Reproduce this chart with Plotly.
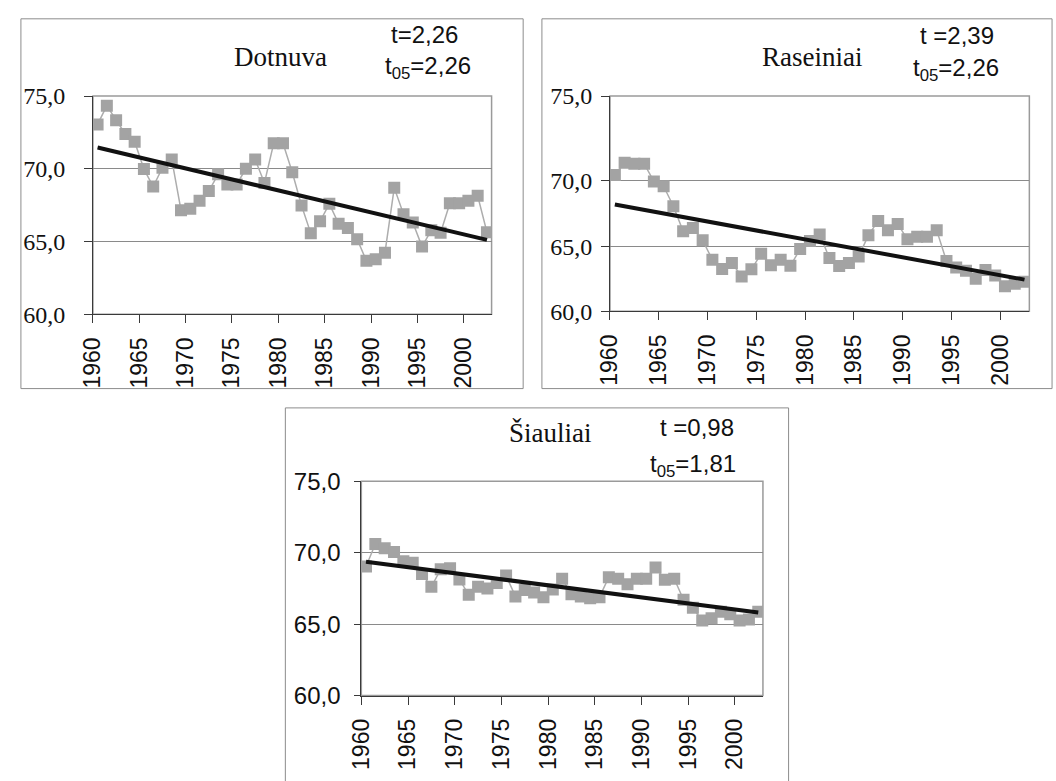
import plotly.graph_objects as go

# Years of observation (one point per year)
years = list(range(1960, 2003))

# Station series
dotnuva = [73.05, 74.34, 73.34, 72.39, 71.86, 69.98, 68.78, 70.07, 70.64, 67.15,
           67.26, 67.81, 68.47, 69.62, 68.92, 68.92, 70.00, 70.64, 69.03, 71.75,
           71.75, 69.76, 67.48, 65.56, 66.39, 67.59, 66.22, 65.93, 65.16, 63.67,
           63.78, 64.23, 68.69, 66.88, 66.31, 64.65, 65.78, 65.60, 67.63, 67.63,
           67.81, 68.14, 65.64]

raseiniai = [70.45, 71.39, 71.32, 71.32, 69.96, 69.59, 68.06, 66.13, 66.38, 65.44,
             63.96, 63.24, 63.71, 62.67, 63.22, 64.41, 63.54, 63.96, 63.49, 64.78,
             65.39, 65.89, 64.08, 63.47, 63.71, 64.21, 65.84, 66.93, 66.21, 66.70,
             65.52, 65.71, 65.71, 66.21, 63.86, 63.37, 63.12, 62.50, 63.17, 62.75,
             61.93, 62.11, 62.26]

siauliai = [69.03, 70.61, 70.32, 70.05, 69.41, 69.30, 68.51, 67.61, 68.85, 68.92,
            68.13, 67.05, 67.61, 67.50, 67.88, 68.40, 66.94, 67.39, 67.21, 66.89,
            67.43, 68.18, 67.09, 66.94, 66.82, 66.89, 68.29, 68.18, 67.79, 68.18,
            68.18, 68.97, 68.11, 68.18, 66.71, 66.15, 65.25, 65.41, 65.86, 65.70,
            65.25, 65.32, 65.86]

# Linear trend lines: value at first and last year
trend_years = [1960, 2002]
dotnuva_trend = [71.46, 65.11]
raseiniai_trend = [68.19, 62.43]
siauliai_trend = [69.37, 65.81]

# Axis labels
x_ticktext = ["1960", "1965", "1970", "1975", "1980", "1985", "1990", "1995", "2000"]
x_tickvals = [int(t) - 0.5 for t in x_ticktext]
y_tickvals = [60, 65, 70, 75]
y_ticktext = ["60,0", "65,0", "70,0", "75,0"]
ras_tickvals = [60, 65, 70, 76.5]
ras_ticktext = ["60,0", "65,0", "70,0", "75,0"]

# Panel texts
titles = ["Dotnuva", "Raseiniai", "Šiauliai"]
t_texts = ["t=2,26", "t =2,39", "t =0,98"]
t05_texts = ["t<sub>05</sub>=2,26", "t<sub>05</sub>=2,26", "t<sub>05</sub>=1,81"]

W, H = 1056, 781
MARKER = "#a3a3a3"
LINE = "#adadad"
GRID = "#8a8a8a"
AXIS = "#3a3a3a"
BORDER = "#9a9a9a"
SERIF = "Liberation Serif"
SANS = "Liberation Sans"


def px_x(v):
    return v / W


def px_y(v):
    return 1 - v / H


fig = go.Figure()

panels = [
    dict(data=dotnuva, trend=dotnuva_trend, xa="x", ya="y",
         xd=[80, 484], yd=[85, 311], yr=[60, 75], tv=y_tickvals, tt=y_ticktext,
         yfont=SERIF, ysize=24, ystand=14, ytl=8),
    dict(data=raseiniai, trend=raseiniai_trend, xa="x2", ya="y2",
         xd=[604, 1029], yd=[85, 308], yr=[60, 76.5], tv=ras_tickvals, tt=ras_ticktext,
         yfont=SERIF, ysize=24, ystand=4, ytl=8),
    dict(data=siauliai, trend=siauliai_trend, xa="x3", ya="y3",
         xd=[352, 759], yd=[484, 706], yr=[60, 75], tv=y_tickvals, tt=y_ticktext,
         yfont=SANS, ysize=24, ystand=9, ytl=6),
]

for i, p in enumerate(panels):
    fig.add_trace(go.Scatter(
        x=years, y=p["data"], mode="lines+markers",
        line=dict(color=LINE, width=1.5),
        marker=dict(symbol="square", size=12, color=MARKER),
        xaxis=p["xa"], yaxis=p["ya"], showlegend=False, hoverinfo="skip"))
    fig.add_trace(go.Scatter(
        x=trend_years, y=p["trend"], mode="lines",
        line=dict(color="#111111", width=4),
        xaxis=p["xa"], yaxis=p["ya"], showlegend=False, hoverinfo="skip"))

    sfx = "" if i == 0 else str(i + 1)
    fig.layout["xaxis" + sfx] = dict(
        domain=[px_x(p["xd"][0]), px_x(p["xd"][1])],
        anchor="y" + sfx, range=[1959.5, 2002.5],
        tickmode="array", tickvals=x_tickvals, ticktext=x_ticktext,
        tickangle=-90, tickfont=dict(family=SANS, size=23, color="#111"),
        ticks="outside", ticklen=8, tickcolor=AXIS, ticklabelstandoff=5,
        showline=True, linecolor=AXIS, linewidth=1,
        showgrid=False, zeroline=False, fixedrange=True)
    fig.layout["yaxis" + sfx] = dict(
        domain=[px_y(p["yd"][1]), px_y(p["yd"][0])],
        anchor="x" + sfx, range=p["yr"],
        tickmode="array", tickvals=p["tv"], ticktext=p["tt"],
        tickfont=dict(family=p["yfont"], size=p["ysize"], color="#111"),
        ticks="outside", ticklen=p["ytl"], tickcolor=AXIS,
        ticklabelstandoff=p["ystand"],
        showline=True, linecolor=AXIS, linewidth=1,
        showgrid=True, gridcolor=GRID, gridwidth=1, zeroline=False, fixedrange=True)

    # plot-area frame
    fig.add_shape(type="rect", xref=p["xa"] + " domain", yref=p["ya"] + " domain",
                  x0=0, x1=1, y0=0, y1=1, line=dict(color=BORDER, width=1.5),
                  layer="below")

# outer panel frames
frames = [(7, 5, 516, 388), (535, 5, 1052, 388), (275, 408, 785, 795)]
for x0, y0, x1, y1 in frames:
    fig.add_shape(type="rect", xref="paper", yref="paper",
                  x0=px_x(x0), x1=px_x(x1), y0=px_y(y1), y1=px_y(y0),
                  line=dict(color="#8c8c8c", width=1))

# titles and t statistics
title_pos = [(270, 45), (809, 45), (544, 434)]
t_pos = [(416, 21), (956, 22), (692, 428)]
t05_pos = [(420, 55), (955, 58), (688, 468)]
for i in range(3):
    fig.add_annotation(text=titles[i], x=px_x(title_pos[i][0]), y=px_y(title_pos[i][1]),
                       xref="paper", yref="paper", showarrow=False,
                       xanchor="center", yanchor="middle",
                       font=dict(family=SERIF, size=27, color="#111"))
    fig.add_annotation(text=t_texts[i], x=px_x(t_pos[i][0]), y=px_y(t_pos[i][1]),
                       xref="paper", yref="paper", showarrow=False,
                       xanchor="center", yanchor="middle",
                       font=dict(family=SANS, size=24, color="#111"))
    fig.add_annotation(text=t05_texts[i], x=px_x(t05_pos[i][0]), y=px_y(t05_pos[i][1]),
                       xref="paper", yref="paper", showarrow=False,
                       xanchor="center", yanchor="middle",
                       font=dict(family=SANS, size=24, color="#111"))

fig.update_layout(width=W, height=H, margin=dict(l=0, r=0, t=0, b=0),
                  paper_bgcolor="white", plot_bgcolor="white")

fig.write_html("out.html", config={"displayModeBar": False})
